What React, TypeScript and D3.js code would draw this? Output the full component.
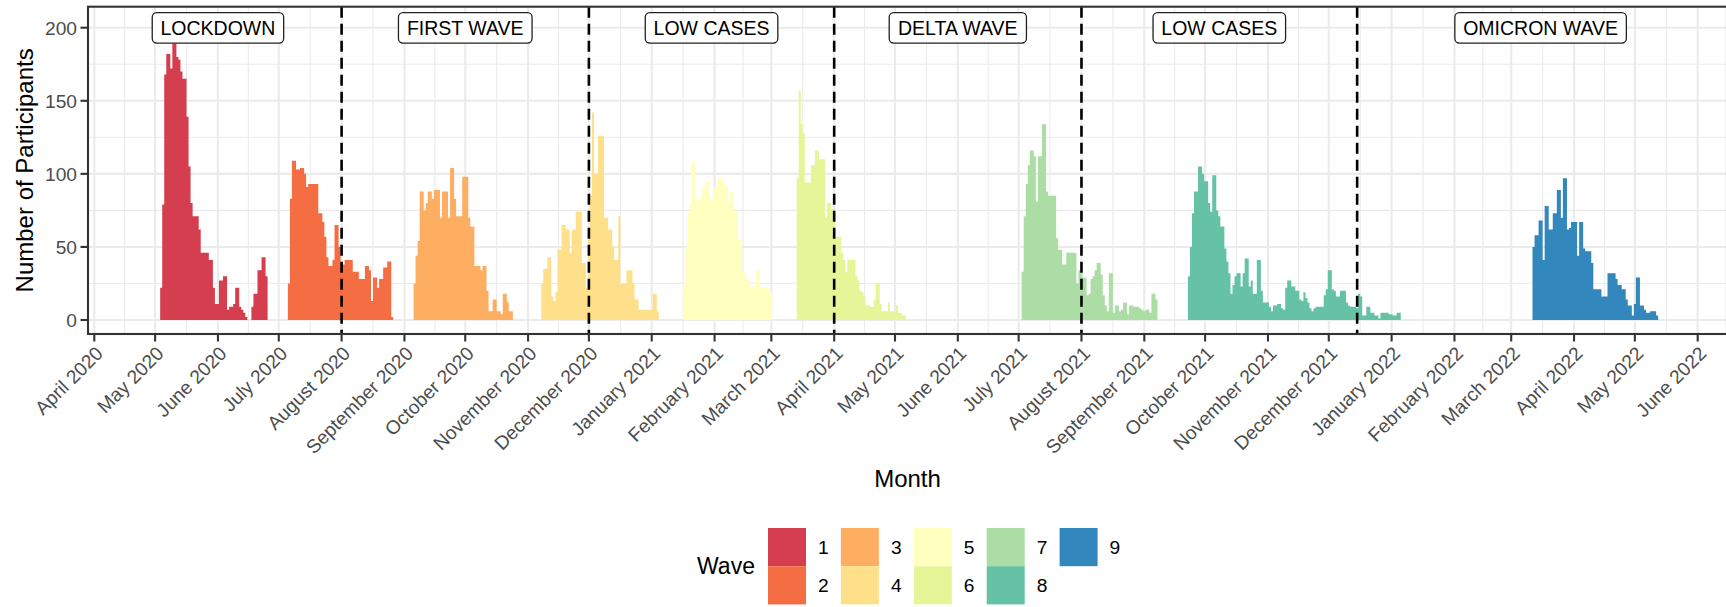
import React, { useEffect, useMemo } from "react";
import * as d3 from "d3";

// ---------------- DATA ----------------
const WAVES = ["1", "2", "3", "4", "5", "6", "7", "8", "9"];
const WAVE_COLORS = ["#D53E4F", "#F46D43", "#FDAE61", "#FEE08B", "#FFFFBF", "#E6F598", "#ABDDA4", "#66C2A5", "#3288BD"];
const WAVE_START = ["2020-05-04", "2020-07-06", "2020-09-06", "2020-11-08", "2021-01-17", "2021-03-14", "2021-07-03", "2021-09-23", "2022-03-12"];

const wave1 = [22, 79, 168, 182, 182, 172, 189, 189, 180, 178, 170, 165, 165, 139, 105, 80, 71, 71, 71, 62, 46, 46, 46, 46, 41, 41, 22, 11, 11, 27, 27, 30, 30, 7, 9, 9, 11, 22, 22, 9, 7, 5, 2, 0, 0, 9, 18, 18, 34, 34, 43, 43, 30];
const wave2 = [25, 83, 109, 109, 103, 103, 104, 104, 100, 91, 93, 93, 93, 93, 93, 73, 73, 67, 57, 43, 37, 37, 41, 65, 65, 50, 39, 38, 41, 41, 41, 41, 33, 33, 33, 28, 28, 28, 37, 37, 34, 13, 29, 29, 22, 28, 28, 36, 36, 40, 40, 2];
const wave3 = [25, 44, 54, 88, 88, 75, 80, 88, 88, 83, 89, 89, 89, 70, 88, 88, 88, 70, 104, 104, 83, 71, 71, 71, 98, 98, 98, 70, 64, 64, 37, 37, 37, 34, 37, 37, 20, 6, 6, 14, 14, 6, 6, 4, 18, 18, 12, 6, 6];
const wave4 = [25, 35, 35, 43, 43, 16, 13, 19, 48, 48, 65, 65, 62, 62, 46, 62, 62, 74, 74, 74, 39, 39, 22, 55, 85, 142, 100, 100, 126, 126, 126, 70, 70, 62, 62, 50, 41, 41, 71, 25, 25, 25, 34, 34, 34, 25, 14, 14, 7, 7, 7, 7, 7, 7, 7, 18, 18, 6];
const wave5 = [24, 50, 73, 79, 108, 108, 83, 83, 83, 90, 90, 95, 95, 83, 83, 91, 91, 97, 97, 97, 92, 92, 80, 88, 88, 74, 74, 55, 55, 33, 33, 28, 28, 23, 23, 23, 34, 34, 22, 22, 22, 22, 20, 19];
const wave6 = [97, 157, 134, 128, 94, 94, 94, 106, 106, 116, 116, 110, 110, 110, 70, 80, 80, 76, 76, 57, 57, 57, 46, 41, 33, 41, 41, 41, 41, 30, 27, 20, 19, 16, 10, 10, 9, 9, 14, 25, 25, 11, 6, 6, 6, 12, 6, 6, 5, 10, 5, 5, 3, 3];
const wave7 = [33, 71, 93, 106, 116, 116, 112, 81, 112, 112, 134, 134, 88, 85, 85, 85, 85, 56, 48, 48, 38, 38, 46, 46, 46, 46, 46, 25, 34, 32, 29, 29, 17, 18, 28, 30, 34, 39, 39, 31, 17, 10, 6, 32, 32, 5, 10, 10, 6, 7, 12, 12, 4, 10, 10, 9, 9, 9, 8, 7, 6, 7, 7, 5, 18, 18, 14];
const wave8 = [30, 50, 73, 88, 88, 105, 105, 100, 95, 95, 80, 74, 99, 99, 75, 71, 64, 64, 49, 40, 32, 18, 24, 30, 32, 32, 23, 32, 42, 42, 23, 27, 18, 18, 41, 41, 20, 12, 12, 12, 9, 6, 10, 10, 11, 11, 8, 7, 22, 27, 27, 23, 23, 20, 20, 14, 13, 19, 15, 12, 8, 6, 8, 9, 9, 9, 9, 17, 21, 34, 34, 21, 20, 16, 16, 20, 20, 20, 12, 10, 9, 9, 9, 8, 18, 16, 3, 3, 9, 9, 5, 5, 3, 3, 1, 5, 5, 5, 5, 4, 4, 3, 3, 5, 5];
const wave9 = [50, 58, 58, 68, 68, 41, 78, 78, 62, 62, 73, 73, 89, 89, 70, 97, 97, 62, 63, 67, 67, 67, 44, 67, 67, 49, 47, 47, 47, 39, 21, 21, 21, 21, 16, 16, 16, 32, 32, 32, 32, 28, 24, 24, 21, 21, 14, 10, 10, 3, 11, 29, 29, 10, 10, 7, 5, 5, 6, 6, 6, 3];
const WAVE_COUNTS = [wave1, wave2, wave3, wave4, wave5, wave6, wave7, wave8, wave9];

const MONTH_LABELS = [
  "April 2020", "May 2020", "June 2020", "July 2020", "August 2020", "September 2020", "October 2020",
  "November 2020", "December 2020", "January 2021", "February 2021", "March 2021", "April 2021", "May 2021",
  "June 2021", "July 2021", "August 2021", "September 2021", "October 2021", "November 2021", "December 2021",
  "January 2022", "February 2022", "March 2022", "April 2022", "May 2022", "June 2022",
];
const Y_TICKS = [0, 50, 100, 150, 200];
const Y_MINOR = [25, 75, 125, 175];

const PERIOD_BOUNDS = ["2020-04-01", "2020-08-01", "2020-12-01", "2021-04-01", "2021-08-01", "2021-12-15", "2022-06-14"];
const PERIOD_LABELS = ["LOCKDOWN", "FIRST WAVE", "LOW CASES", "DELTA WAVE", "LOW CASES", "OMICRON WAVE"];
const LABEL_Y = 200;

// ---------------- LAYOUT ----------------
const W = 1726;
const H = 607;
const PL = 88, PT = 6.7, PR = 1727, PB = 334;
const FONT = "'Liberation Sans', Arial, Helvetica, sans-serif";

export default function App() {
  useEffect(() => {
    document.body.style.margin = "0";
  }, []);

  const parse = d3.utcParse("%Y-%m-%d");
  const parseMonth = d3.utcParse("%B %Y");

  const x = d3.scaleUtc().domain([parse("2020-04-01")!, parse("2022-06-01")!]).range([94.3, 1697.7]);
  const y = d3.scaleLinear().domain([0, 200]).range([320, 27.7]);

  const monthDates = MONTH_LABELS.map((m) => parseMonth(m)!);
  const majorX = monthDates.map((d) => x(d));
  const minorX = majorX.slice(1).map((v, i) => (v + majorX[i]) / 2);

  // one step-shaped area per wave (daily bars, adjacent, no seams)
  const wavePaths = useMemo(() => {
    return WAVE_COUNTS.map((arr, w) => {
      const s = parse(WAVE_START[w])!;
      const pts = arr.map((v, i) => ({ t: d3.utcHour.offset(d3.utcDay.offset(s, i), -12), v }));
      pts.push({ t: d3.utcHour.offset(d3.utcDay.offset(s, arr.length), -12), v: arr[arr.length - 1] });
      const area = d3
        .area<{ t: Date; v: number }>()
        .x((d) => x(d.t))
        .y0(y(0))
        .y1((d) => y(d.v))
        .curve(d3.curveStepAfter);
      return area(pts) || "";
    });
  }, []);

  const measure = useMemo(() => {
    const c = document.createElement("canvas").getContext("2d")!;
    return (t: string, f: string) => {
      c.font = f;
      return c.measureText(t).width;
    };
  }, []);

  const bounds = PERIOD_BOUNDS.map((b) => parse(b)!);
  const labelFont = `19.5px ${FONT}`;

  return (
    <div style={{ position: "absolute", left: 0, top: 0 }}>
      <svg width={W} height={H} style={{ display: "block", background: "#fff" }} fontFamily={FONT}>
        <rect x={0} y={0} width={W} height={H} fill="#fff" />
        {/* grid */}
        <g>
          {Y_MINOR.map((v) => (
            <line key={"ym" + v} x1={PL} x2={PR} y1={y(v)} y2={y(v)} stroke="#EBEBEB" strokeWidth={1.1} />
          ))}
          {minorX.map((v, i) => (
            <line key={"xm" + i} x1={v} x2={v} y1={PT} y2={PB} stroke="#EBEBEB" strokeWidth={1.1} />
          ))}
          {Y_TICKS.map((v) => (
            <line key={"yM" + v} x1={PL} x2={PR} y1={y(v)} y2={y(v)} stroke="#EBEBEB" strokeWidth={2.1} />
          ))}
          {majorX.map((v, i) => (
            <line key={"xM" + i} x1={v} x2={v} y1={PT} y2={PB} stroke="#EBEBEB" strokeWidth={2.1} />
          ))}
        </g>
        {/* bars */}
        <g>
          {wavePaths.map((p, w) => (
            <path key={"w" + w} d={p} fill={WAVE_COLORS[w]} />
          ))}
        </g>
        {/* period separators */}
        <g>
          {bounds.slice(1, -1).map((b, i) => (
            <line key={"dl" + i} x1={x(b)} x2={x(b)} y1={PT} y2={PB} stroke="#000" strokeWidth={2.6} strokeDasharray="11,6" />
          ))}
        </g>
        {/* period labels */}
        <g>
          {PERIOD_LABELS.map((lab, i) => {
            const cx = (x(bounds[i]) + x(bounds[i + 1])) / 2;
            const cy = y(LABEL_Y);
            const tw = measure(lab, labelFont);
            const bw = tw + 16.6;
            const bh = 30.4;
            return (
              <g key={"lab" + i}>
                <rect x={cx - bw / 2} y={cy - bh / 2 + 0.2} width={bw} height={bh} rx={4.5} ry={4.5} fill="#fff" stroke="#222" strokeWidth={1.3} />
                <text x={cx} y={cy} dy="0.36em" textAnchor="middle" fontSize={19.5} fill="#000">
                  {lab}
                </text>
              </g>
            );
          })}
        </g>
        {/* panel border */}
        <rect x={PL} y={PT} width={PR - PL} height={PB - PT} fill="none" stroke="#333333" strokeWidth={2.1} />
        {/* y axis ticks + labels */}
        <g>
          {Y_TICKS.map((v) => (
            <g key={"yt" + v}>
              <line x1={80.5} x2={PL} y1={y(v)} y2={y(v)} stroke="#333333" strokeWidth={2.1} />
              <text x={77} y={y(v)} dy="0.36em" textAnchor="end" fontSize={19.2} fill="#4D4D4D">
                {v}
              </text>
            </g>
          ))}
        </g>
        {/* x axis ticks + labels */}
        <g>
          {monthDates.map((d, i) => (
            <g key={"xt" + i}>
              <line x1={x(d)} x2={x(d)} y1={PB} y2={PB + 7.5} stroke="#333333" strokeWidth={2.1} />
              <text
                transform={`translate(${x(d)},${PB + 11}) rotate(-45)`}
                dy="0.72em"
                textAnchor="end"
                fontSize={19.2}
                fill="#4D4D4D"
              >
                {MONTH_LABELS[i]}
              </text>
            </g>
          ))}
        </g>
        {/* axis titles */}
        <text x={(PL + PR) / 2} y={486.7} textAnchor="middle" fontSize={24} fill="#000">
          Month
        </text>
        <text transform={`translate(33.3,${(PT + PB) / 2}) rotate(-90)`} textAnchor="middle" fontSize={24} fill="#000">
          Number of Participants
        </text>
        {/* legend */}
        <g>
          <text x={697} y={574} fontSize={23} fill="#000">
            Wave
          </text>
          {WAVES.map((wv, i) => {
            const col = Math.floor(i / 2);
            const row = i % 2;
            const kx = 768 + col * 72.9;
            const ky = 528 + row * 38.2;
            return (
              <g key={"lg" + wv}>
                <rect x={kx} y={ky} width={38} height={38.2} fill={WAVE_COLORS[i]} />
                <text x={kx + 50} y={ky + 19.1} dy="0.36em" fontSize={19.2} fill="#000">
                  {wv}
                </text>
              </g>
            );
          })}
        </g>
      </svg>
    </div>
  );
}
